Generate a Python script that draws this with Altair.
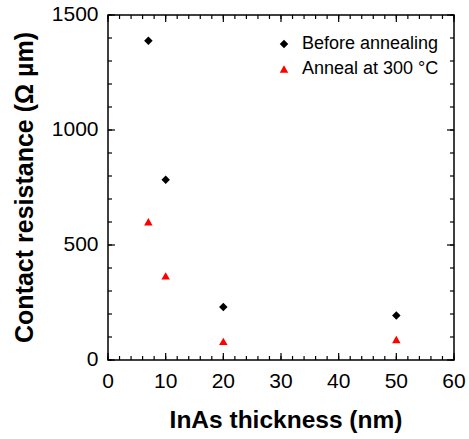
import altair as alt
import pandas as pd

# ---- data ----
thickness = [7, 10, 20, 50]
before_annealing = [1388, 784, 230, 193]
anneal_300 = [601, 366, 81, 89]
series_names = ["Before annealing", "Anneal at 300 °C"]

x_major = [0, 10, 20, 30, 40, 50, 60]
x_minor = list(range(0, 61, 2))
y_major = [0, 500, 1000, 1500]
y_minor = list(range(0, 1501, 100))

x_title = "InAs thickness (nm)"
y_title = "Contact resistance (Ω µm)"

W, H = 346, 345
MAJOR, MINOR = 7, 4

df = pd.DataFrame({
    "x": thickness + thickness,
    "y": before_annealing + anneal_300,
    "series": [series_names[0]] * len(thickness) + [series_names[1]] * len(thickness),
})

FONT = "Liberation Sans"
xs = alt.Scale(domain=[0, 60], nice=False, zero=False)
ys = alt.Scale(domain=[0, 1500], nice=False, zero=False)

legend_common = dict(
    orient="none", legendX=167, legendY=20, title=None,
    labelFont=FONT, labelFontSize=18, labelColor="black",
    symbolSize=72, labelOffset=9, rowPadding=7, padding=0,
    symbolStrokeWidth=0,
)

main = alt.Chart(df).mark_point(filled=True, size=72, opacity=1).encode(
    x=alt.X("x:Q", scale=xs, axis=None),
    y=alt.Y("y:Q", scale=ys, axis=None),
    shape=alt.Shape("series:N", scale=alt.Scale(domain=series_names, range=["diamond", "triangle-up"]),
                    legend=alt.Legend(**legend_common)),
    color=alt.Color("series:N", scale=alt.Scale(domain=series_names, range=["black", "red"]),
                    legend=alt.Legend(**legend_common)),
)


def xticks(values, length, side):
    d = pd.DataFrame({"v": values})
    if side == "bottom":
        y0, y1 = H, H - length
    else:
        y0, y1 = 0, length
    return alt.Chart(d).mark_rule(color="black", strokeWidth=1.2).encode(
        x=alt.X("v:Q", scale=xs, axis=None),
        y=alt.value(y0), y2=alt.value(y1),
    )


def yticks(values, length, side):
    d = pd.DataFrame({"v": values})
    if side == "left":
        x0, x1 = 0, length
    else:
        x0, x1 = W, W - length
    return alt.Chart(d).mark_rule(color="black", strokeWidth=1.2).encode(
        y=alt.Y("v:Q", scale=ys, axis=None),
        x=alt.value(x0), x2=alt.value(x1),
    )


tick_layers = [
    xticks(x_minor, MINOR, "bottom"), xticks(x_major, MAJOR, "bottom"),
    xticks(x_minor, MINOR, "top"), xticks(x_major, MAJOR, "top"),
    yticks(y_minor, MINOR, "left"), yticks(y_major, MAJOR, "left"),
    yticks(y_minor, MINOR, "right"), yticks(y_major, MAJOR, "right"),
]

# tick labels (positions from the scales)
x_labels = alt.Chart(pd.DataFrame({"v": x_major, "label": [str(v) for v in x_major]})).mark_text(
    font=FONT, fontSize=21, align="center", baseline="alphabetic", color="black"
).encode(
    x=alt.X("v:Q", scale=xs, axis=None), y=alt.value(H + 27.5), text="label:N"
)
y_labels = alt.Chart(pd.DataFrame({"v": y_major, "label": [str(v) for v in y_major]})).mark_text(
    font=FONT, fontSize=21, align="right", baseline="middle", color="black"
).encode(
    y=alt.Y("v:Q", scale=ys, axis=None), x=alt.value(-9.5), text="label:N"
)

# axis titles
x_title_layer = alt.Chart(pd.DataFrame({"t": [x_title]})).mark_text(
    font=FONT, fontSize=24.5, fontWeight="bold", align="center", baseline="alphabetic", color="black"
).encode(x=alt.value(W / 2 + 5), y=alt.value(H + 68), text="t:N")
y_title_layer = alt.Chart(pd.DataFrame({"t": [y_title]})).mark_text(
    font=FONT, fontSize=25, fontWeight="bold", align="center", baseline="middle", angle=270, color="black"
).encode(x=alt.value(-83), y=alt.value(H / 2), text="t:N")

chart = alt.layer(x_labels, y_labels, x_title_layer, y_title_layer, main, *tick_layers).properties(
    width=W, height=H,
    autosize=alt.AutoSizeParams(type="none"),
    padding={"left": 108, "top": 15, "right": 15, "bottom": 79},
    background="white",
).configure_view(stroke="black", strokeWidth=1.5)

chart.save("out.html", embed_options={"renderer": "svg", "actions": False})
